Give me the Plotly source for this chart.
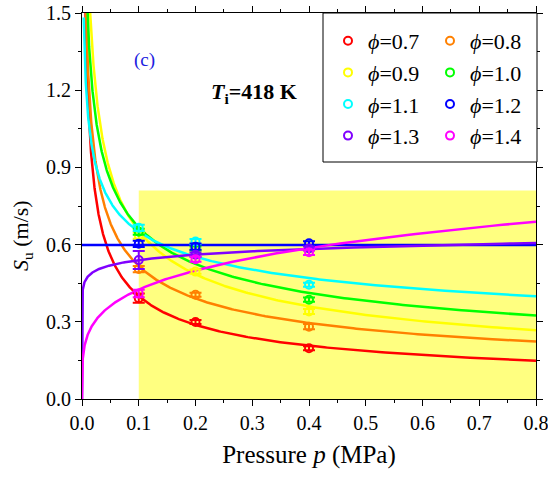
import numpy as np
import plotly.graph_objects as go

# Measured pressures (MPa)
pressure = [0.1, 0.2, 0.4]

# Equivalence ratios and their colours
phi_labels = ["0.7", "0.8", "0.9", "1.0", "1.1", "1.2", "1.3", "1.4"]
colors = ["#FF0000", "#FF8000", "#FFFF00", "#00FF00",
          "#00FFFF", "#0000FF", "#8000FF", "#FF00FF"]

# Measured laminar burning velocity Su (m/s) at 0.1, 0.2, 0.4 MPa
su_07 = [0.392, 0.299, 0.197]
su_08 = [0.505, 0.405, 0.281]
su_09 = [0.635, 0.495, 0.340]
su_10 = [0.650, 0.585, 0.386]
su_11 = [0.665, 0.612, 0.444]
su_12 = [0.603, 0.592, 0.605]
su_13 = [0.540, 0.561, 0.585]
su_14 = [0.410, 0.543, 0.570]

# Uncertainty of each measurement (m/s)
err_07 = [0.018, 0.008, 0.008]
err_08 = [0.012, 0.008, 0.010]
err_09 = [0.012, 0.008, 0.010]
err_10 = [0.012, 0.008, 0.008]
err_11 = [0.012, 0.010, 0.008]
err_12 = [0.012, 0.012, 0.008]
err_13 = [0.035, 0.008, 0.008]
err_14 = [0.015, 0.010, 0.010]

# Power-law fits Su = Su(0.8 MPa) * (p / 0.8)^beta
fit_su08 = [0.149, 0.223, 0.267, 0.324, 0.399, 0.598, 0.606, 0.689]
fit_beta = [-0.475, -0.404, -0.430, -0.347, -0.235, 0.0, 0.0555, 0.232]

# Shaded experimental pressure window
window_p = [0.1, 0.8]
window_su_top = 0.81

su_all = [su_07, su_08, su_09, su_10, su_11, su_12, su_13, su_14]
err_all = [err_07, err_08, err_09, err_10, err_11, err_12, err_13, err_14]

SERIF = "Liberation Serif"
L, R, T, B = 82, 12, 13, 78
W, H = 548, 477
PW, PH = W - L - R, H - T - B


def px(xp):
    return (xp - L) / PW


def py(yp):
    return (H - B - yp) / PH


fig = go.Figure()

fig.add_shape(type="rect", xref="x", yref="y",
              x0=window_p[0], x1=window_p[1], y0=0, y1=window_su_top,
              fillcolor="#FFFF80", line_width=0, layer="below")

# fitted curves
for i in range(len(phi_labels)):
    if fit_beta[i] < 0:
        p = np.geomspace(0.003, 0.8, 500)
    else:
        p = np.concatenate([[0.0], np.geomspace(1e-9, 0.8, 800)])
    if fit_beta[i] != 0:
        s = fit_su08[i] * np.power(p / 0.8, fit_beta[i])
    else:
        s = np.full_like(p, fit_su08[i])
    fig.add_trace(go.Scatter(x=p, y=s, mode="lines",
                             line=dict(color=colors[i], width=2.5),
                             showlegend=False, hoverinfo="skip"))

# measured points with error bars
for i in range(len(phi_labels)):
    fig.add_trace(go.Scatter(
        x=pressure, y=su_all[i], mode="markers",
        name="<i>ϕ</i>=" + phi_labels[i],
        legend="legend" if i % 2 == 0 else "legend2",
        marker=dict(symbol="circle-open", size=8, color=colors[i],
                    line=dict(width=2, color=colors[i])),
        error_y=dict(type="data", array=err_all[i], color=colors[i],
                     thickness=2, width=6),
    ))

# legend frame
fig.add_shape(type="rect", xref="paper", yref="paper",
              x0=px(323), x1=px(537), y0=py(162), y1=1.0,
              fillcolor="white", line=dict(color="black", width=1),
              layer="above")

legend_style = dict(font=dict(family=SERIF, size=22, color="black"),
                    bgcolor="rgba(0,0,0,0)", borderwidth=0,
                    xanchor="left", yanchor="top", tracegroupgap=0,
                    itemwidth=30)

axis_common = dict(showline=True, linecolor="black", linewidth=1,
                   mirror="allticks", ticks="outside", ticklen=6,
                   tickcolor="black", showgrid=False, zeroline=False,
                   ticklabeloverflow="allow",
                   tickfont=dict(family=SERIF, size=20, color="black"))

fig.update_layout(
    width=W, height=H,
    margin=dict(l=L, r=R, t=T, b=B, autoexpand=False),
    paper_bgcolor="white", plot_bgcolor="white",
    xaxis=dict(range=[0, 0.8], dtick=0.1, tick0=0, tickformat=".1f",
               minor=dict(dtick=0.05, ticklen=3, ticks="outside", tickcolor="black"),
               title=dict(text="Pressure <i>p</i> (MPa)",
                          font=dict(family=SERIF, size=25, color="black"),
                          standoff=12),
               **axis_common),
    yaxis=dict(range=[0, 1.5], dtick=0.3, tick0=0, tickformat=".1f",
               minor=dict(dtick=0.15, ticklen=3, ticks="outside", tickcolor="black"),
               **axis_common),
    legend=dict(x=px(328), y=py(20), **legend_style),
    legend2=dict(x=px(430), y=py(20), **legend_style),
    showlegend=True,
)

fig.add_annotation(text="<i>S</i><sub>u</sub>\u00a0(m/s)", textangle=-90,
                   xref="paper", yref="paper", x=px(22), y=py(236),
                   xanchor="center", yanchor="middle",
                   showarrow=False, font=dict(family=SERIF, size=22, color="black"))
fig.add_annotation(text="(c)", xref="paper", yref="paper",
                   x=px(144), y=py(60), xanchor="center", yanchor="middle",
                   showarrow=False,
                   font=dict(family=SERIF, size=19, color="#2020E0"))
fig.add_annotation(text="<b><i>T</i><sub>i</sub>=418 K</b>", xref="paper", yref="paper",
                   x=px(254), y=py(93), xanchor="center", yanchor="middle",
                   showarrow=False,
                   font=dict(family=SERIF, size=22, color="black"))

fig.write_html("out.html")
